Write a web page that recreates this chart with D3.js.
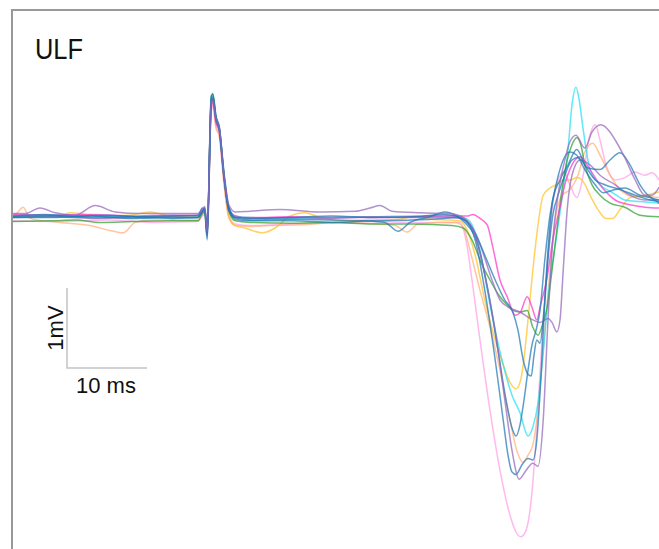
<!DOCTYPE html>
<html>
<head>
<meta charset="utf-8">
<script src="https://cdn.jsdelivr.net/npm/d3@7"></script>
<style>
  html, body { margin: 0; padding: 0; background: #fff; }
  svg { display: block; }
</style>
</head>
<body>
<svg id="chart" width="659" height="549"></svg>
<script>
// Evoked responses, channel ULF. Each sweep is a list of [time (ms), amplitude (mV)].
const title = "ULF";

const sweepPurpleA = [[0,0.03],[1.6,0.03],[3.5,0.10],[5.4,0.04],[7.9,0.01],[10.4,0.13],[12.9,0.05],[16,0.03],[19.8,0.03],[23.25,0.03],
  [23.8,0.09],[24.1,0.12],[24.4,-0.2],[24.9,1.42],[25.1,1.45],[25.5,1.22],[25.9,1.12],[26.5,0.52],[27.1,0.14],[27.9,0.05],
  [29.75,0.06],[33.5,0.08],[38.5,0.05],[42.9,0.06],[44.75,0.1],[46,0.13],[47.5,0.06],[51,0.04],[54.75,0.03],
  [56.6,-0.03],[57.9,-0.24],[59.1,-0.74],[60.4,-1.43],[61.6,-2.3],[62.5,-2.93],[63.4,-3.29],[64.25,-3.18],[65.1,-3.09],[65.75,-3.13],
  [66.4,-2.55],[67,-1.3],[67.6,-0.3],[68.25,0.26],[69.1,0.7],[69.75,0.93],[70.5,1.01],[71.6,0.85],[72.5,1.05],[73.6,1.14],
  [74.75,1.05],[75.4,0.95],[76.6,0.73],[77.9,0.45],[79.1,0.26],[80,0.26],[80.9,0.36]];

const sweepPurpleB = [[0,-0.02],[5,-0.01],[10,-0.03],[15,-0.02],[20,-0.01],[23.25,-0.02],
  [23.8,0.05],[24.1,0.08],[24.4,-0.28],[24.9,1.38],[25.1,1.47],[25.5,1.2],[25.9,1.1],[26.5,0.5],[27.1,0.1],[27.9,0.0],
  [29.75,-0.03],[35,-0.02],[40,-0.03],[45,-0.01],[50,-0.02],[55,-0.02],
  [56.6,-0.05],[58.5,-0.36],[60,-0.8],[61,-1.05],[62.25,-1.15],[63.5,-1.2],[64.75,-1.28],[66,-1.33],[67,-1.28],[67.5,-1.33],
  [68.1,-1.45],[68.5,-1.3],[68.9,-0.68],[69.4,0.08],[70,0.51],[71,0.7],[72.25,0.64],[73.5,0.51],[75.4,0.39],[77.25,0.26],
  [79.1,0.2],[80.9,0.2]];

const sweepPinkLight = [[0,-0.06],[6,-0.07],[12,-0.05],[18,-0.08],[23.25,-0.07],
  [23.8,0.0],[24.1,0.02],[24.4,-0.3],[24.9,1.3],[25.1,1.38],[25.5,1.12],[25.9,1.02],[26.5,0.42],[27.1,0.0],[27.9,-0.1],
  [29.75,-0.12],[35,-0.1],[40,-0.08],[45,-0.07],[50,-0.08],[55,-0.08],
  [56,-0.08],[56.75,-0.3],[57.5,-0.8],[58.5,-1.55],[59.75,-2.43],[61,-3.18],[62.25,-3.74],[63,-3.95],[63.6,-4.01],[64.25,-3.93],
  [64.9,-3.55],[65.5,-2.8],[66.1,-1.8],[66.75,-0.8],[67.5,0.08],[68.25,0.45],[69,0.55],[69.75,0.39],[70.6,0.23],[71.4,0.51],
  [72.1,0.95],[72.9,1.14],[73.5,0.95],[74.25,0.64],[75.4,0.45],[76.6,0.48],[77.9,0.55],[79.1,0.51],[80,0.54],[80.9,0.45]];

const sweepOrange = [[0,-0.03],[0.75,0.05],[1.4,0.11],[2.25,-0.03],[6,-0.08],[9.75,-0.12],[12.25,-0.18],[13.9,-0.21],[15.4,-0.08],
  [17.25,-0.05],[21,-0.05],[23.25,-0.05],
  [23.8,0.02],[24.1,0.05],[24.4,-0.28],[24.9,1.33],[25.1,1.4],[25.5,1.1],[25.9,1.0],[26.5,0.4],[27.1,-0.02],[27.9,-0.12],
  [29.75,-0.13],[32.25,-0.12],[36,-0.11],[41,-0.08],[46,-0.1],[47.9,-0.12],[49.4,-0.2],[50.75,-0.1],[53.5,-0.08],[55.4,-0.08],
  [56.4,-0.14],[57.25,-0.43],[58.5,-0.93],[59.75,-1.39],[61,-1.93],[62.25,-2.55],[63.1,-2.93],[63.9,-3.08],[64.5,-2.99],
  [65.1,-2.86],[65.6,-2.55],[66.1,-2.05],[66.6,-1.43],[67.25,-0.68],[68,0.01],[68.75,0.26],[69.75,0.33],[70.75,0.51],
  [71.6,0.8],[72.6,0.91],[73.5,0.76],[74.75,0.51],[76,0.33],[77.9,0.24],[79.75,0.24],[80.9,0.23]];

const sweepBlueA = [[0,0.0],[4,0.02],[8,0.0],[12,0.01],[16,-0.01],[20,0.0],[23.25,0.01],
  [23.8,0.1],[24.1,0.07],[24.4,-0.25],[24.9,1.45],[25.1,1.49],[25.5,1.22],[25.9,1.1],[26.5,0.5],[27.1,0.08],[27.9,-0.02],
  [29.75,-0.03],[35,-0.02],[40,0.0],[45,-0.02],[50,-0.01],[54,0.02],[55.5,0.0],
  [56.6,-0.05],[57.9,-0.3],[59.1,-0.93],[60.4,-1.8],[61.4,-2.55],[62,-2.99],[62.5,-3.2],[63,-3.23],[63.75,-3.11],[64.5,-3.03],
  [65.1,-3.05],[65.6,-2.8],[66.1,-2.05],[66.6,-1.05],[67.1,-0.3],[67.6,0.2],[68.5,0.45],[69.5,0.64],[70.6,0.83],[71.6,0.64],
  [72.9,0.45],[74.1,0.39],[76,0.33],[77.9,0.26],[79.75,0.2],[80.9,0.18]];

const sweepBlueB = [[0,-0.02],[5,-0.02],[10,0.0],[15,-0.03],[20,-0.02],[23.25,-0.02],
  [23.8,0.06],[24.1,0.1],[24.4,-0.22],[24.9,1.5],[25.1,1.52],[25.5,1.25],[25.9,1.12],[26.5,0.55],[27.1,0.12],[27.9,-0.02],
  [29.75,-0.05],[35,-0.04],[40,-0.05],[44,-0.06],[46.6,-0.08],[48.25,-0.19],[49.75,-0.08],[52.25,-0.01],[54.1,0.05],[55.4,0.01],
  [56.6,-0.08],[58.25,-0.36],[59.5,-0.93],[60.75,-1.68],[61.75,-2.3],[62.5,-2.65],[63,-2.75],[63.5,-2.61],[64,-2.3],[64.5,-1.93],
  [65,-1.61],[65.5,-1.43],[66,-1.18],[66.6,-0.55],[67.25,0.01],[68,0.39],[68.9,0.7],[69.75,0.8],[70.6,0.76],[71.6,0.58],
  [72.9,0.39],[73.9,0.29],[75.4,0.33],[76.6,0.35],[78.5,0.26],[79.75,0.23],[80.9,0.16]];

const sweepBlueC = [[0,-0.01],[5,0.0],[10,-0.02],[15,-0.01],[20,-0.03],[23.25,-0.02],
  [23.8,0.06],[24.1,0.08],[24.4,-0.2],[24.9,1.4],[25.1,1.46],[25.5,1.2],[25.9,1.08],[26.5,0.48],[27.1,0.08],[27.9,-0.04],
  [29.75,-0.06],[35,-0.06],[40,-0.08],[45,-0.06],[50,-0.05],[54,-0.03],[55.5,-0.02],
  [56.6,-0.05],[57.9,-0.21],[59.1,-0.49],[60.4,-0.8],[61.6,-1.05],[62.6,-1.2],[63.25,-1.43],[63.9,-1.8],[64.5,-1.98],[64.9,-2.0],
  [65.25,-1.74],[65.6,-1.55],[66,-1.59],[66.5,-1.18],[67.1,-0.43],[67.6,0.01],[68.25,0.26],[69.1,0.51],[70,0.7],[70.75,0.73],
  [72,0.6],[73.5,0.58],[74.75,0.7],[76,0.79],[77.25,0.64],[78.5,0.39],[79.75,0.24],[80.9,0.2]];

const sweepCyan = [[0,0.0],[5,0.01],[10,0.0],[15,-0.01],[20,0.01],[23.25,0.0],
  [23.8,0.08],[24.1,0.04],[24.4,-0.3],[24.9,1.4],[25.1,1.48],[25.5,1.22],[25.9,1.1],[26.5,0.5],[27.1,0.1],[27.9,0.0],
  [29.75,-0.02],[35,-0.03],[40,-0.02],[45,-0.01],[50,0.0],[55,0.0],
  [56.75,-0.03],[57.5,-0.11],[58.5,-0.43],[59.75,-1.11],[61.25,-1.8],[62.5,-2.24],[63.5,-2.46],[64.5,-2.75],[65.1,-2.64],
  [65.75,-2.34],[66.4,-1.71],[67.1,-0.93],[68,-0.3],[68.9,0.33],[69.5,0.83],[70,1.39],[70.5,1.61],[70.9,1.45],[71.4,1.08],
  [72.25,0.58],[73.5,0.39],[75.1,0.29],[76.6,0.2],[78.5,0.18],[80.9,0.16]];

const sweepYellow = [[0,-0.01],[3.5,0.01],[6,0.0],[7.25,0.04],[8.5,0.03],[11,0.0],[14.75,0.01],[17.25,0.05],[19.75,0.0],[23.25,-0.01],
  [23.8,0.04],[24.1,0.06],[24.4,-0.22],[24.9,1.36],[25.1,1.44],[25.5,1.18],[25.9,1.06],[26.5,0.46],[27.1,0.0],[27.9,-0.12],
  [29.1,-0.15],[31.25,-0.21],[32.9,-0.15],[34.75,0.0],[36.6,0.04],[38.25,-0.01],[41,-0.06],[44.75,-0.05],[48.5,-0.04],
  [50.4,0.0],[52.25,-0.04],[54.75,-0.05],[56,-0.06],
  [56.9,-0.18],[57.9,-0.49],[59.1,-1.05],[60.4,-1.55],[61.4,-1.86],[62.25,-2.08],[63,-2.16],[63.5,-2.08],[63.9,-1.86],
  [64.5,-1.3],[65.1,-0.68],[65.75,-0.11],[66.4,0.26],[67.25,0.35],[68,0.39],[68.9,0.45],[69.75,0.45],[70.6,0.48],[71.4,0.43],
  [72.25,0.26],[73.25,0.08],[74.25,-0.03],[75.1,-0.03],[76,0.08],[77.25,0.23],[79.1,0.26],[80.9,0.3]];

const sweepGreen = [[0,-0.07],[5,-0.06],[8,-0.05],[11,-0.08],[15,-0.07],[20,-0.06],[23.25,-0.06],
  [23.8,0.03],[24.1,0.05],[24.4,-0.25],[24.9,1.48],[25.1,1.53],[25.5,1.24],[25.9,1.1],[26.5,0.5],[27.1,0.06],[27.9,-0.06],
  [29.75,-0.08],[35,-0.09],[40,-0.08],[45,-0.1],[50,-0.1],[55,-0.12],
  [56.4,-0.15],[57.5,-0.3],[58.75,-0.61],[59.75,-0.8],[61,-1.01],[61.9,-1.11],[62.6,-1.18],[63.5,-1.2],[64.4,-1.18],[65.1,-1.39],
  [65.75,-1.49],[66.4,-1.33],[66.9,-1.14],[67.5,-0.68],[68.1,-0.18],[68.75,0.33],[69.4,0.7],[70,0.89],[70.6,0.98],[71.1,0.89],
  [71.6,0.64],[72.5,0.39],[73.5,0.26],[74.75,0.16],[76.6,0.11],[78.5,0.01],[80.9,-0.01]];

const sweepMagenta = [[0,0.02],[5,0.01],[10,0.02],[15,0.0],[20,0.01],[23.25,0.01],
  [23.8,0.07],[24.1,0.1],[24.4,-0.22],[24.9,1.38],[25.1,1.42],[25.5,1.16],[25.9,1.06],[26.5,0.47],[27.1,0.07],[27.9,-0.02],
  [29.75,-0.02],[35,-0.01],[40,-0.02],[45,-0.02],[50,-0.01],[55,0.0],[57,0.0],
  [57.6,0.02],[58.5,-0.03],[59.4,-0.11],[60.1,-0.39],[61,-0.8],[61.9,-1.01],[62.9,-1.24],[63.5,-1.21],[64.4,-1.01],[65,-1.14],
  [65.6,-1.3],[66,-1.14],[66.9,-0.76],[67.6,-0.3],[68.5,0.11],[69.1,0.39],[70,0.64],[71,0.74],[72.25,0.58],[73.5,0.39],
  [75.4,0.2],[77.25,0.14],[79.1,0.11],[80.9,0.1]];

const sweeps = [
  { values: sweepPinkLight, color: "#ff9ee6" },
  { values: sweepOrange,    color: "#ffb07a" },
  { values: sweepYellow,    color: "#ffc126" },
  { values: sweepCyan,      color: "#22dff2" },
  { values: sweepGreen,     color: "#2ca02c" },
  { values: sweepMagenta,   color: "#ff33cc" },
  { values: sweepPurpleB,   color: "#9467bd" },
  { values: sweepBlueC,     color: "#1f77b4" },
  { values: sweepBlueB,     color: "#1f77b4" },
  { values: sweepBlueA,     color: "#1f77b4" },
  { values: sweepPurpleA,   color: "#9467bd" }
];

// Calibration bar: 10 ms by 1 mV, anchored at this time/amplitude.
const calTimeMs = 10, calAmpMv = 1;
const calOriginMs = 6.875, calOriginMv = -1.9;

const svg = d3.select("#chart");
const W = 659, H = 549;

const x = d3.scaleLinear().domain([0, 81]).range([12, 660]);
const y = d3.scaleLinear().domain([-4.2, 2.55]).range([552, 12]);

svg.append("clipPath").attr("id", "plotClip")
  .append("rect").attr("x", 13).attr("y", 11).attr("width", W - 13).attr("height", H - 11);

const line = d3.line()
  .x(d => x(d[0]))
  .y(d => y(d[1]))
  .curve(d3.curveMonotoneX);

svg.append("g").attr("clip-path", "url(#plotClip)")
  .selectAll("path")
  .data(sweeps)
  .join("path")
  .attr("d", d => line(d.values))
  .attr("fill", "none")
  .attr("stroke", d => d.color)
  .attr("stroke-width", 1.5)
  .attr("stroke-opacity", 0.72)
  .attr("stroke-linejoin", "round");

// Frame: left and top edges
svg.append("line").attr("x1", 12).attr("x2", 12).attr("y1", 9).attr("y2", H)
  .attr("stroke", "#999").attr("stroke-width", 2);
svg.append("line").attr("x1", 11).attr("x2", W).attr("y1", 10).attr("y2", 10)
  .attr("stroke", "#999").attr("stroke-width", 2);

// Channel label
svg.append("text")
  .attr("x", 35).attr("y", 58.5)
  .attr("font-family", "Liberation Sans, Arial, sans-serif")
  .attr("font-size", 29)
  .attr("textLength", 48)
  .attr("lengthAdjust", "spacingAndGlyphs")
  .attr("fill", "#111")
  .text(title);

// Calibration bar
const cx0 = x(calOriginMs), cx1 = x(calOriginMs + calTimeMs);
const cy0 = y(calOriginMv), cy1 = y(calOriginMv + calAmpMv);
svg.append("path")
  .attr("d", `M${cx0},${cy1}V${cy0}H${cx1}`)
  .attr("fill", "none")
  .attr("stroke", "#c4c4c4")
  .attr("stroke-width", 1.5);

svg.append("text")
  .attr("transform", `translate(${cx0 - 4.5},${(cy0 + cy1) / 2}) rotate(-90)`)
  .attr("text-anchor", "middle")
  .attr("font-family", "Liberation Sans, Arial, sans-serif")
  .attr("font-size", 22)
  .attr("fill", "#111")
  .text(calAmpMv + "mV");

svg.append("text")
  .attr("x", (cx0 + cx1) / 2 - 1).attr("y", cy0 + 25)
  .attr("text-anchor", "middle")
  .attr("font-family", "Liberation Sans, Arial, sans-serif")
  .attr("font-size", 22)
  .attr("fill", "#111")
  .text(calTimeMs + " ms");
</script>
</body>
</html>
